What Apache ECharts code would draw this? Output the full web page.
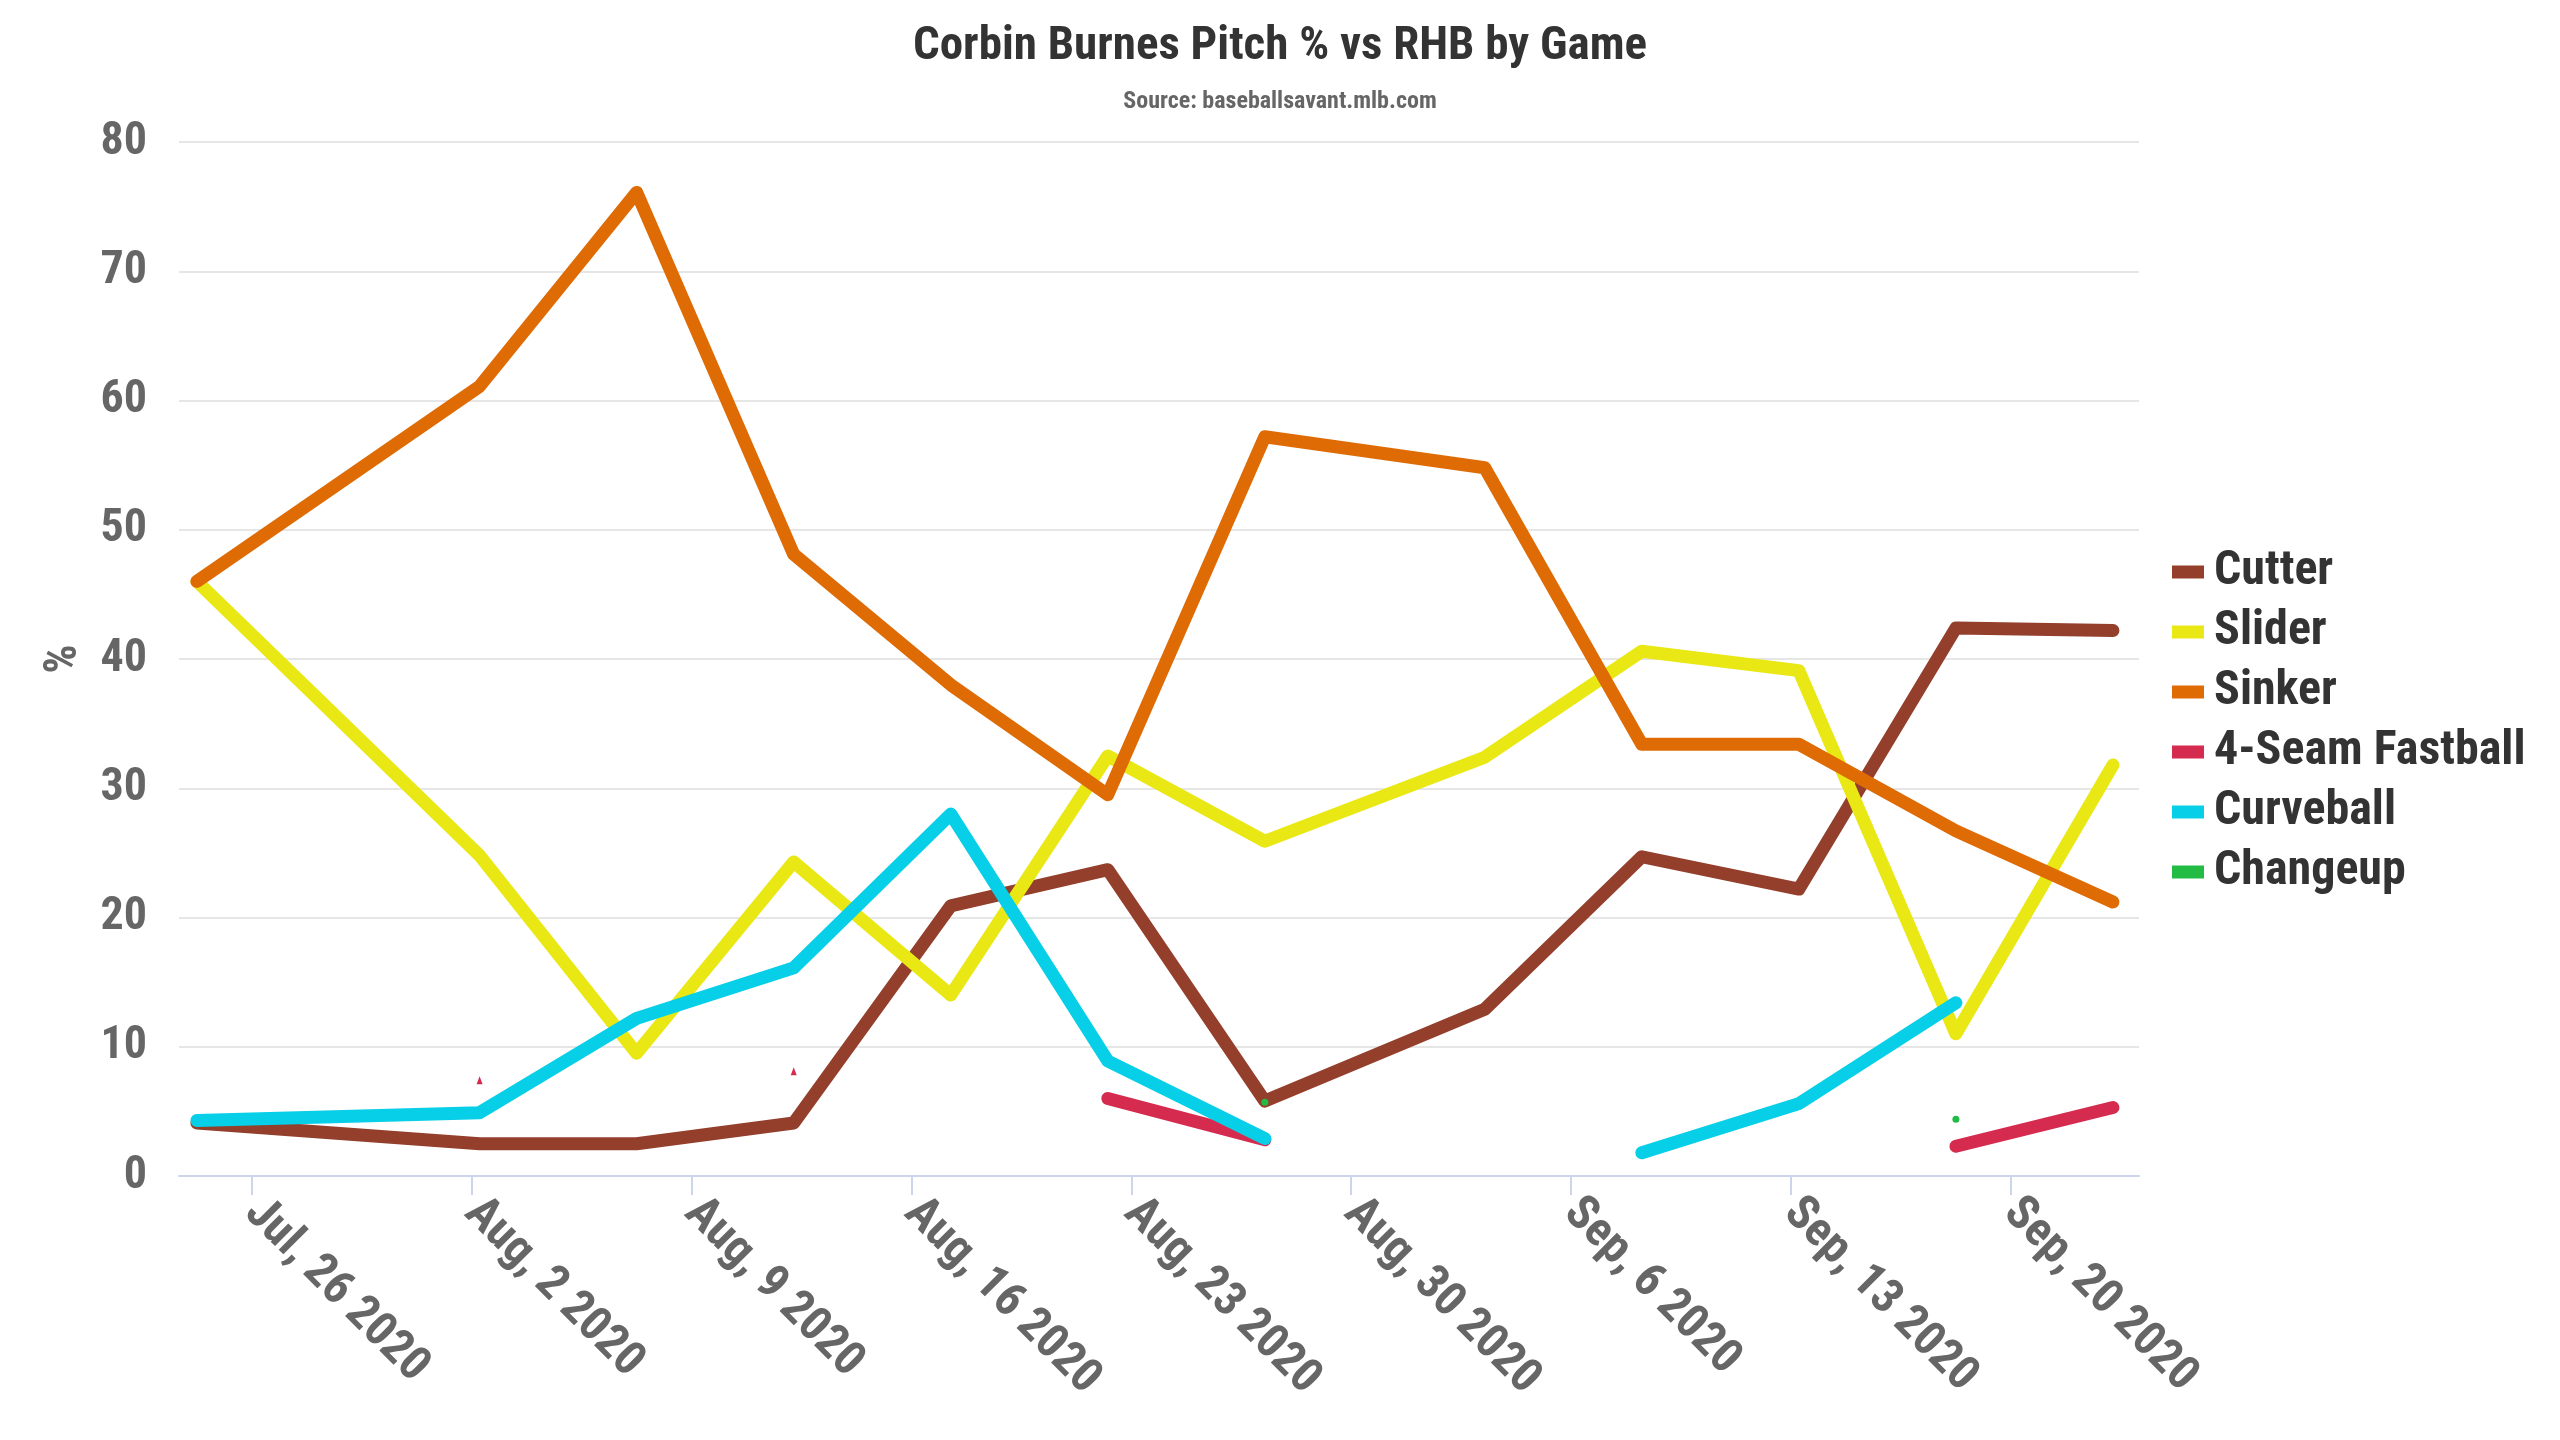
<!DOCTYPE html>
<html>
<head>
<meta charset="utf-8">
<script src="https://cdn.jsdelivr.net/npm/echarts@6/dist/echarts.min.js"></script>
<style>
html, body { margin: 0; padding: 0; background: #fff; }
#chart { width: 2560px; height: 1440px; }
</style>
</head>
<body>
<div id="chart"></div>
<script>
var FONT = '"Roboto Condensed", "Liberation Sans Narrow", "DejaVu Sans Condensed", Roboto, sans-serif';

// game dates (starts vs RHB) and pitch usage in %
var gameDates = ['2020-07-24', '2020-08-02', '2020-08-07', '2020-08-12', '2020-08-17', '2020-08-22',
	'2020-08-27', '2020-09-03', '2020-09-08', '2020-09-13', '2020-09-18', '2020-09-23'];
var cutter    = [4.1, 2.5, 2.5, 4.1, 20.9, 23.7, 5.8, 12.9, 24.7, 22.2, 42.4, 42.2];
var slider    = [46.0, 24.8, 9.5, 24.3, 14.0, 32.5, 25.9, 32.4, 40.6, 39.1, 11.0, 31.8];
var sinker    = [46.0, 61.1, 76.1, 48.1, 38.0, 29.5, 57.2, 54.8, 33.4, 33.4, 26.7, 21.2];
var fourSeam  = [null, 7.4, null, 8.1, null, 6.0, 2.8, null, null, null, 2.3, 5.3];
var curveball = [4.3, 4.9, 12.2, 16.1, 28.0, 8.9, 2.9, null, 1.8, 5.6, 13.4, null];
var changeup  = [null, null, null, null, null, null, 5.7, null, null, null, 4.4, null];

// weekly tick dates on the x axis
var tickDates = ['2020-07-26', '2020-08-02', '2020-08-09', '2020-08-16', '2020-08-23',
	'2020-08-30', '2020-09-06', '2020-09-13', '2020-09-20'];
var months = ['Jan', 'Feb', 'Mar', 'Apr', 'May', 'Jun', 'Jul', 'Aug', 'Sep', 'Oct', 'Nov', 'Dec'];

var DAY = 86400000;

function toTime(s) {
	var p = s.split('-');
	return Date.UTC(+p[0], +p[1] - 1, +p[2]);
}

// points sit a few hours after midnight (game time)
function pairs(values) {
	return values.map(function (v, i) {
		return [toTime(gameDates[i]) + DAY / 4, v];
	});
}

function isolated(values, i) {
	return values[i] != null && values[i - 1] == null && values[i + 1] == null;
}

var ticks = tickDates.map(toTime);

function makeSeries(name, values, color, symbol, size) {
	var s = {
		name: name,
		type: 'line',
		data: pairs(values),
		color: color,
		lineStyle: { width: 13, color: color, cap: 'round', join: 'round' },
		showSymbol: false,
		emphasis: { disabled: true },
		animation: false
	};
	if (symbol) {
		s.showSymbol = true;
		s.symbol = symbol;
		s.symbolSize = function (v, params) {
			return isolated(values, params.dataIndex) ? size : 0;
		};
		s.itemStyle = { color: color };
	}
	return s;
}

var chart = echarts.init(document.getElementById('chart'));

chart.setOption({
	backgroundColor: '#fff',
	title: [
		{
			text: 'Corbin Burnes Pitch % vs RHB by Game',
			left: 'center',
			top: 19,
			textStyle: { fontFamily: FONT, fontSize: 47, fontWeight: 'bold', color: '#333333' }
		},
		{
			text: 'Source: baseballsavant.mlb.com',
			left: 'center',
			top: 85,
			textStyle: { fontFamily: FONT, fontSize: 24, fontWeight: 'bold', color: '#666666' }
		}
	],
	legend: {
		orient: 'vertical',
		left: 2167,
		top: 542,
		icon: 'rect',
		itemWidth: 32,
		itemHeight: 13,
		itemGap: 10,
		textStyle: { fontFamily: FONT, fontSize: 48, fontWeight: 'bold', color: '#333333', lineHeight: 50, padding: [0, 0, 0, 5] },
		data: ['Cutter', 'Slider', 'Sinker', '4-Seam Fastball', 'Curveball', 'Changeup']
	},
	grid: { left: 179, right: 421, top: 142, bottom: 264 },
	xAxis: {
		type: 'value',
		min: ticks[0] - 2.32 * DAY,
		max: ticks[0] + 60.08 * DAY,
		splitLine: { show: false },
		axisLine: { show: true, lineStyle: { color: '#ccd6eb', width: 2 } },
		axisTick: { show: true, customValues: ticks, length: 19, lineStyle: { color: '#ccd6eb', width: 2 } },
		axisLabel: {
			customValues: ticks,
			rotate: -45,
			margin: 30,
			fontFamily: FONT,
			fontSize: 48,
			fontWeight: 'bold',
			color: '#666666',
			formatter: function (v) {
				var d = new Date(v);
				return months[d.getUTCMonth()] + ', ' + d.getUTCDate() + ' ' + d.getUTCFullYear();
			}
		}
	},
	yAxis: {
		type: 'value',
		min: 0,
		max: 80,
		interval: 10,
		name: '%',
		nameLocation: 'middle',
		nameRotate: 90,
		nameGap: 92,
		nameTextStyle: { fontFamily: FONT, fontSize: 46, fontWeight: 'bold', color: '#666666' },
		axisLine: { show: false },
		axisTick: { show: false },
		splitLine: { lineStyle: { color: '#e6e6e6', width: 2 } },
		axisLabel: { margin: 32, fontFamily: FONT, fontSize: 46, fontWeight: 'bold', color: '#666666' }
	},
	series: [
		makeSeries('Cutter', cutter, '#933f2c'),
		makeSeries('Slider', slider, '#e9e815'),
		makeSeries('Sinker', sinker, '#df6b05'),
		makeSeries('4-Seam Fastball', fourSeam, '#d52b4f', 'triangle', [6, 8]),
		makeSeries('Curveball', curveball, '#08cfe8'),
		makeSeries('Changeup', changeup, '#22bb44', 'circle', 7)
	]
});
</script>
</body>
</html>
